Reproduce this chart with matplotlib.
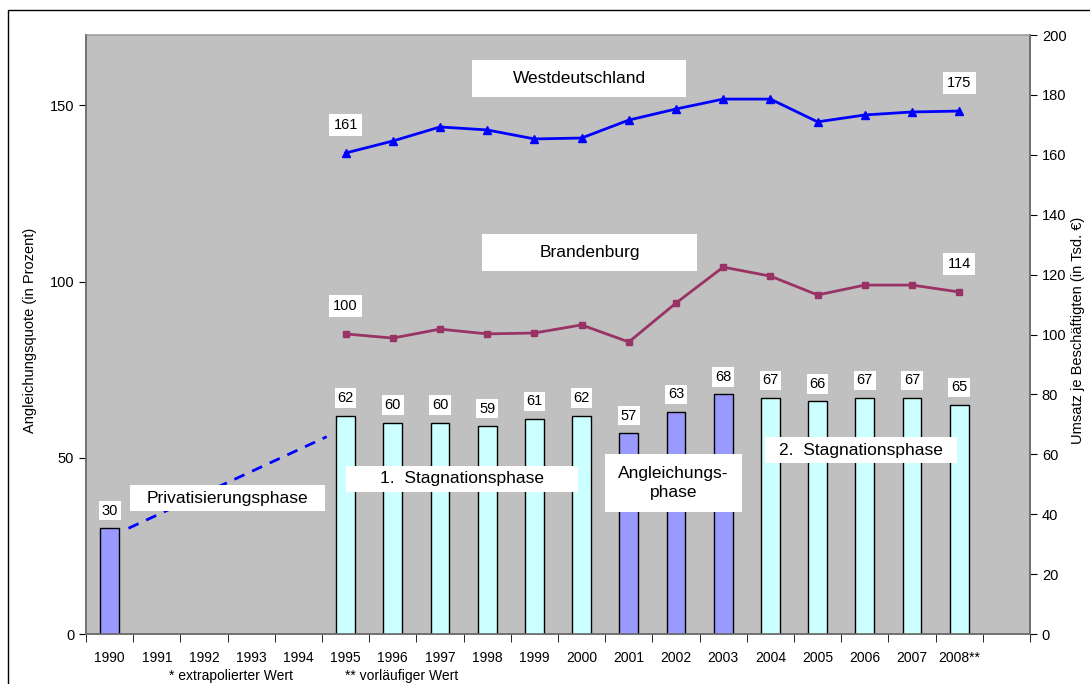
import matplotlib

matplotlib.use("Agg")
import matplotlib.pyplot as plt  # noqa: E402
import numpy as np  # noqa: E402

plt.rcParams["font.family"] = ["Liberation Sans", "DejaVu Sans"]

W, H = 1090, 684

# Kategorien (letzte Kategorie leer, wie im Original)
JAHRE = ["1990", "1991", "1992", "1993", "1994", "1995", "1996", "1997", "1998",
         "1999", "2000", "2001", "2002", "2003", "2004", "2005", "2006", "2007",
         "2008**", ""]

# Angleichungsquote (linke Achse), None = kein Wert
QUOTE = [30, None, None, None, None, 62, 60, 60, 59, 61, 62, 57, 63, 68,
         67, 66, 67, 67, 65, None]
# Phase je Balken: "a" = Angleichung/Privatisierung (lila), "s" = Stagnation (hellblau)
PHASE = ["a", "", "", "", "", "s", "s", "s", "s", "s", "s", "a", "a", "a",
         "s", "s", "s", "s", "s", ""]

# Umsatz je Beschäftigten (rechte Achse), 1995–2008
LINIEN_JAHRE = ["1995", "1996", "1997", "1998", "1999", "2000", "2001", "2002",
                "2003", "2004", "2005", "2006", "2007", "2008**"]
WEST = [160.6, 164.6, 169.3, 168.3, 165.3, 165.6, 171.6, 175.3, 178.6, 178.6,
        171.0, 173.3, 174.3, 174.6]
BRANDENBURG = [100.2, 98.8, 101.8, 100.2, 100.5, 103.2, 97.5, 110.5, 122.5,
               119.5, 113.2, 116.5, 116.5, 114.2]

# Phasen-/Serienbeschriftungen
PHASEN_TEXTE = ["Westdeutschland", "Brandenburg", "Privatisierungsphase",
                "1.  Stagnationsphase", "Angleichungs-\nphase", "2.  Stagnationsphase"]

FARBE = {"a": "#9999ff", "s": "#ccffff"}
GRAU = "#c0c0c0"

fig = plt.figure(figsize=(W / 100, H / 100), dpi=100)
ax = fig.add_axes([86 / W, 1 - 634 / H, 944 / W, 599 / H])
ax2 = ax.twinx()
ax.set_zorder(ax2.get_zorder() + 1)
ax.patch.set_visible(False)
ax2.patch.set_facecolor(GRAU)
ax2.patch.set_visible(True)

x = np.arange(len(JAHRE))
for xi, v, p in zip(x, QUOTE, PHASE):
    if v is None:
        continue
    ax.bar(xi, v, width=0.4, color=FARBE[p], edgecolor="black", linewidth=1, zorder=2)
    ax.text(xi, v + 3, str(v), ha="center", va="bottom", fontsize=10.5,
            bbox=dict(facecolor="white", edgecolor="none", pad=2), zorder=5)

# gestrichelte Linie der Privatisierungsphase
ax.plot([0.4, 4.6], [30, 56], ls=(0, (4, 3)), color="#0000ff", lw=2, zorder=3)

# Linien auf der rechten Achse
xl = [JAHRE.index(j) for j in LINIEN_JAHRE]
tr = ax2.transData
ax.plot(xl, WEST, color="#0000ff", lw=2, marker="^", ms=6, transform=tr, zorder=4)
ax.plot(xl, BRANDENBURG, color="#993366", lw=2, marker="s", ms=5, transform=tr, zorder=4)

box = dict(facecolor="white", edgecolor="none", pad=3)
for xi, yv, s in [(xl[0], WEST[0], "161"), (xl[-1], WEST[-1], "175"),
                  (xl[0], BRANDENBURG[0], "100"), (xl[-1], BRANDENBURG[-1], "114")]:
    ax.text(xi, yv + 7, s, ha="center", va="bottom", fontsize=10.5, transform=tr,
            bbox=box, zorder=5)


def kasten(x0, y0, x1, y1, text, **kw):
    # weißer Kasten in Pixelkoordinaten (von oben), Text mittig
    fig.patches.append(plt.Rectangle((x0 / W, 1 - y1 / H), (x1 - x0) / W, (y1 - y0) / H,
                                     transform=fig.transFigure, facecolor="white",
                                     edgecolor="none", zorder=10))
    fig.text((x0 + x1) / 2 / W, 1 - (y0 + y1) / 2 / H, text, ha="center", va="center",
             fontsize=12.5, zorder=11, **kw)


rahmen = [(472, 60, 686, 97), (482, 234, 697, 271), (130, 485, 325, 511),
          (346, 466, 578, 492), (605, 454, 742, 512), (765, 437, 957, 463)]
for (x0, y0, x1, y1), t in zip(rahmen, PHASEN_TEXTE):
    kasten(x0, y0, x1, y1, t, linespacing=1.35)

# Achsen
ax.set_xlim(-0.5, len(JAHRE) - 0.5)
ax.set_ylim(0, 170)
ax2.set_ylim(0, 200)
ax.set_yticks([0, 50, 100, 150])
ax2.set_yticks(range(0, 201, 20))
ax.set_xticks(x)
ax.set_xticklabels(JAHRE)
ax.set_xticks(np.arange(-0.5, len(JAHRE)), minor=True)
ax.tick_params(axis="x", which="major", length=0, pad=12, labelsize=10)
ax.tick_params(axis="x", which="minor", length=6, direction="out")
ax.tick_params(axis="y", length=5, labelsize=10.5)
ax2.tick_params(axis="y", length=5, labelsize=10.5)

for a in (ax, ax2):
    for s in a.spines.values():
        s.set_color("#707070")
        s.set_linewidth(1.2)
ax.spines["top"].set_visible(False)
ax2.spines["top"].set_color("#a0a0a0")

fig.text(30 / W, 1 - 330 / H, "Angleichungsquote (in Prozent)", rotation=90,
         ha="center", va="center", fontsize=10.5)
fig.text(1078 / W, 1 - 330 / H, "Umsatz je Beschäftigten (in Tsd. €)", rotation=90,
         ha="center", va="center", fontsize=10.5)

fig.text(231 / W, 1 - 676 / H, "* extrapolierter Wert", ha="center", va="center",
         fontsize=10)
fig.text(402 / W, 1 - 676 / H, "** vorläufiger Wert", ha="center", va="center",
         fontsize=10)

# äußerer Rahmen
fig.patches.append(plt.Rectangle((8 / W, -0.05), 1.1, 1 - 10 / H + 0.05,
                                 transform=fig.transFigure, fill=False,
                                 edgecolor="black", lw=1))

fig.savefig("out.png", dpi=100)
